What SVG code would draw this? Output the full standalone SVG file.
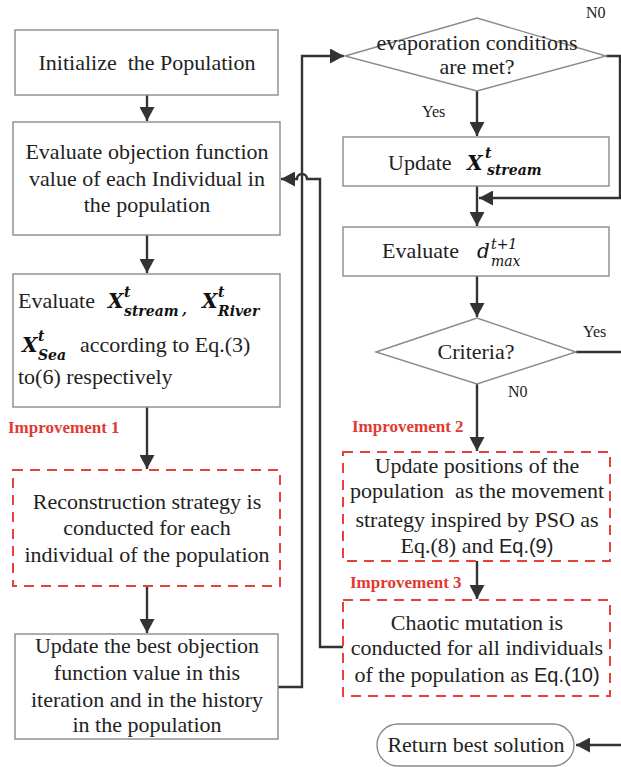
<svg xmlns="http://www.w3.org/2000/svg" width="621" height="767" viewBox="0 0 621 767">
<style>
.box{fill:#fff;stroke:#8a8a8a;stroke-width:1.4}
.dbox{fill:#fff;stroke:#e8403a;stroke-width:2;stroke-dasharray:10 7}
.t{font-family:"Liberation Serif","Times New Roman",serif;font-size:22px;fill:#222;text-anchor:middle}
.tl{font-family:"Liberation Serif","Times New Roman",serif;font-size:22px;fill:#222}
.s{font-family:"Liberation Sans",Arial,sans-serif;font-size:20px}
.lab{font-family:"Liberation Serif","Times New Roman",serif;font-size:16px;fill:#222}
.imp{font-family:"Liberation Serif","Times New Roman",serif;font-size:17px;font-weight:bold;fill:#e03a33}
.mx{font-family:"DejaVu Serif",serif;font-weight:bold;font-style:italic;fill:#111}
.mi{font-family:"DejaVu Serif",serif;font-style:italic;fill:#111}
.c{fill:none;stroke:#333;stroke-width:2.4}
</style>
<defs>
<marker id="ah" markerUnits="userSpaceOnUse" markerWidth="15" markerHeight="15" refX="14" refY="7.5" orient="auto">
<path d="M0,0 L14,7.5 L0,15 Z" fill="#333"/>
</marker>
</defs>

<g id="connectors">
<path class="c" d="M147,95 V121" marker-end="url(#ah)"/>
<path class="c" d="M147,235 V273" marker-end="url(#ah)"/>
<path class="c" d="M147,407 V469" marker-end="url(#ah)"/>
<path class="c" d="M147,586 V633" marker-end="url(#ah)"/>
<path class="c" d="M278,687 H302 V56 H344" marker-end="url(#ah)"/>
<path class="c" d="M343,647 H320 V179 H307 A5,5 0 0 0 297,179 H281" marker-end="url(#ah)"/>
<path class="c" d="M477,91 V136" marker-end="url(#ah)"/>
<path class="c" d="M606,56 H620 V198 H479" marker-end="url(#ah)"/>
<path class="c" d="M477,186 V226" marker-end="url(#ah)"/>
<path class="c" d="M477,276 V317" marker-end="url(#ah)"/>
<path class="c" d="M576,352 H621"/>
<path class="c" d="M477,384 V451" marker-end="url(#ah)"/>
<path class="c" d="M477,561 V599" marker-end="url(#ah)"/>
<path class="c" d="M621,745 H576" marker-end="url(#ah)"/>
</g>

<g id="init">
<rect class="box" x="15" y="30" width="263" height="65"/>
<text class="t" x="147" y="70">Initialize&#160; the Population</text>
</g>

<g id="evaluate-obj">
<rect class="box" x="13" y="122" width="267" height="113"/>
<text class="t" x="147" y="159">Evaluate objection function</text>
<text class="t" x="147" y="186">value of each Individual in</text>
<text class="t" x="147" y="212">the population</text>
</g>

<g id="evaluate-x">
<rect class="box" x="13" y="274" width="267" height="133"/>
<text class="tl" x="18" y="308">Evaluate</text>
<text class="mx" x="108" y="308" font-size="20">X</text>
<text class="mx" x="124" y="297" font-size="14">t</text>
<text class="mx" x="124" y="316" font-size="14">stream</text>
<text class="mx" x="182" y="314" font-size="14">,</text>
<text class="mx" x="202" y="308" font-size="20">X</text>
<text class="mx" x="218" y="297" font-size="14">t</text>
<text class="mx" x="218" y="316" font-size="14">River</text>
<text class="mx" x="22" y="352" font-size="20">X</text>
<text class="mx" x="38" y="341" font-size="14">t</text>
<text class="mx" x="38" y="360" font-size="14">Sea</text>
<text class="tl" x="80" y="352">according to Eq.(3)</text>
<text class="tl" x="18" y="384">to(6) respectively</text>
</g>

<text class="imp" x="8" y="433">Improvement 1</text>

<g id="reconstruction">
<rect class="dbox" x="13" y="470" width="267" height="116"/>
<text class="t" x="147" y="509">Reconstruction strategy is</text>
<text class="t" x="147" y="535">conducted for each</text>
<text class="t" x="147" y="562">individual of the population</text>
</g>

<g id="update-best">
<rect class="box" x="15" y="634" width="263" height="105"/>
<text class="t" x="147" y="653">Update the best objection</text>
<text class="t" x="147" y="680">function value in this</text>
<text class="t" x="147" y="707">iteration and in the history</text>
<text class="t" x="147" y="732">in the population</text>
</g>

<g id="evaporation">
<polygon class="box" points="345,56 477,18 606,56 477,91"/>
<text class="t" x="477" y="50" font-size="20">evaporation conditions</text>
<text class="t" x="477" y="74" font-size="20">are met?</text>
</g>
<text class="lab" x="586" y="18">N0</text>
<text class="lab" x="422" y="117">Yes</text>

<g id="update-stream">
<rect class="box" x="343" y="137" width="266" height="49"/>
<text class="tl" x="388" y="170">Update</text>
<text class="mx" x="467" y="170" font-size="20">X</text>
<text class="mx" x="485" y="158" font-size="14">t</text>
<text class="mx" x="487" y="175" font-size="14">stream</text>
</g>

<g id="evaluate-d">
<rect class="box" x="343" y="227" width="266" height="49"/>
<text class="tl" x="382" y="258">Evaluate</text>
<text class="mi" x="477" y="258" font-size="20">d</text>
<text class="mi" x="491" y="249" font-size="14">t+1</text>
<text class="mi" x="491" y="266" font-size="14">max</text>
</g>

<g id="criteria">
<polygon class="box" points="376,352 477,318 576,352 477,384"/>
<text class="t" x="476" y="359">Criteria?</text>
</g>
<text class="lab" x="583" y="337">Yes</text>
<text class="lab" x="508" y="397">N0</text>

<text class="imp" x="352" y="432">Improvement 2</text>

<g id="update-positions">
<rect class="dbox" x="343" y="452" width="267" height="109"/>
<text class="t" x="477" y="473">Update positions of the</text>
<text class="t" x="477" y="498">population&#160; as the movement</text>
<text class="t" x="477" y="527">strategy inspired by PSO as</text>
<text class="t" x="477" y="553">Eq.(8) and <tspan class="s">Eq.(9)</tspan></text>
</g>

<text class="imp" x="350" y="588">Improvement 3</text>

<g id="chaotic">
<rect class="dbox" x="343" y="600" width="267" height="96"/>
<text class="t" x="477" y="630">Chaotic mutation is</text>
<text class="t" x="477" y="655">conducted for all individuals</text>
<text class="t" x="477" y="682">of the population as <tspan class="s">Eq.(10)</tspan></text>
</g>

<g id="return">
<rect class="box" x="377" y="724" width="197" height="42" rx="21"/>
<text class="t" x="476" y="752">Return best solution</text>
</g>
</svg>
